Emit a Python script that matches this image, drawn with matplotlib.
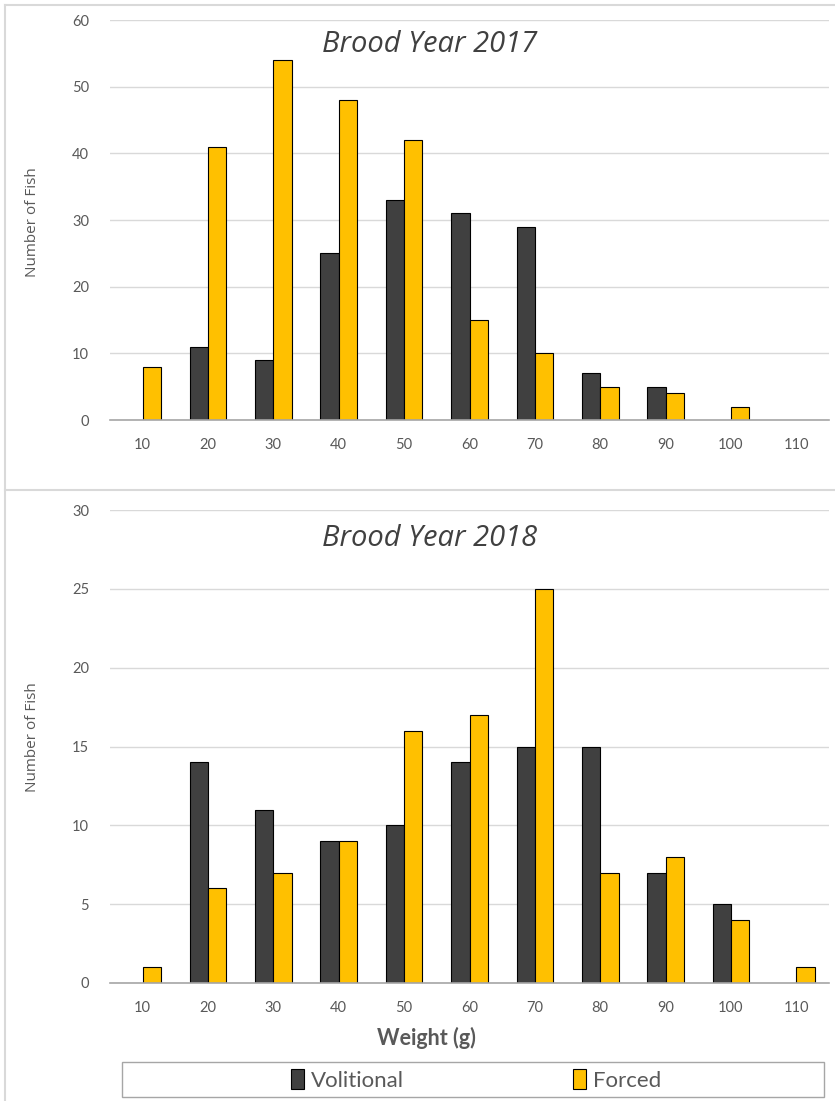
import numpy as np
import matplotlib.pyplot as plt
from matplotlib.lines import Line2D
from matplotlib.patches import Rectangle, Patch

# weight classes (g)
weights = ["10", "20", "30", "40", "50", "60", "70", "80", "90", "100", "110"]

# brood year 2017 counts
volitional_2017 = [0, 11, 9, 25, 33, 31, 29, 7, 5, 0, 0]
forced_2017 = [8, 41, 54, 48, 42, 15, 10, 5, 4, 2, 0]

# brood year 2018 counts
volitional_2018 = [0, 14, 11, 9, 10, 14, 15, 15, 7, 5, 0]
forced_2018 = [1, 6, 7, 9, 16, 17, 25, 7, 8, 4, 1]

DARK = "#404040"
GOLD = "#FFC000"
GRID = "#d9d9d9"
TEXT = "#595959"
TICK_FONT = ["Lato", "DejaVu Sans"]
TITLE_FONT = ["Open Sans", "DejaVu Sans"]

W, H = 835, 1101
fig = plt.figure(figsize=(W / 100, H / 100), dpi=100)


def fx(px):
    return px / W


def fy(py):
    return 1 - py / H


def draw_panel(ax, vol, forced, ymax, step, title, title_y):
    x = np.arange(len(weights))
    bw = 0.28
    ax.bar(x - bw / 2, [v if v else np.nan for v in vol], bw, color=DARK,
           edgecolor="black", linewidth=0.8, zorder=3)
    ax.bar(x + bw / 2, [v if v else np.nan for v in forced], bw, color=GOLD,
           edgecolor="black", linewidth=0.8, zorder=3)
    ax.set_xlim(-0.5, len(weights) - 0.5)
    ax.set_ylim(0, ymax)
    ax.set_yticks(np.arange(0, ymax + 1, step))
    ax.set_xticks(x)
    ax.set_xticklabels(weights)
    ax.yaxis.grid(True, color=GRID, linewidth=1, zorder=0)
    ax.set_axisbelow(True)
    for s in ["top", "right", "left"]:
        ax.spines[s].set_visible(False)
    ax.spines["bottom"].set_color("#a6a6a6")
    ax.spines["bottom"].set_linewidth(1.2)
    ax.spines["bottom"].set_zorder(4)
    ax.tick_params(axis="both", length=0, colors=TEXT, labelsize=10.5)
    ax.tick_params(axis="y", pad=15)
    ax.tick_params(axis="x", pad=13)
    for lab in ax.get_xticklabels() + ax.get_yticklabels():
        lab.set_family(TICK_FONT)
    fig.text(fx(430), fy(title_y), title, ha="center", va="center",
             fontsize=21, style="italic", color="#404040", family=TITLE_FONT)


ax1 = fig.add_axes([fx(110), fy(420), fx(829) - fx(110), fy(20) - fy(420)])
draw_panel(ax1, volitional_2017, forced_2017, 60, 10, "Brood Year 2017", 45)
fig.text(fx(33), fy(222), "Number of Fish", rotation=90, ha="center", va="center",
         fontsize=11, color=TEXT, family=TITLE_FONT)

ax2 = fig.add_axes([fx(110), fy(983), fx(829) - fx(110), fy(510) - fy(983)])
draw_panel(ax2, volitional_2018, forced_2018, 30, 5, "Brood Year 2018", 538)
fig.text(fx(33), fy(737), "Number of Fish", rotation=90, ha="center", va="center",
         fontsize=11, color=TEXT, family=TITLE_FONT)
fig.text(fx(426), fy(1038), "Weight (g)", ha="center", va="center",
         fontsize=15.5, fontweight="bold", color=TEXT, family=TICK_FONT)

# panel borders
for (x0, y0, x1, y1) in [(5, 5, 835, 5), (5, 5, 5, 1101), (5, 490, 835, 490)]:
    fig.add_artist(Line2D([fx(x0), fx(x1)], [fy(y0), fy(y1)], color=GRID, lw=1.5))

# legend box
fig.add_artist(Rectangle((fx(122), fy(1097)), fx(824) - fx(122), fy(1062) - fy(1097),
                         facecolor="white", edgecolor="#a6a6a6", lw=1))
handles = [Patch(facecolor=DARK, edgecolor="black", lw=0.8, label="Volitional"),
           Patch(facecolor=GOLD, edgecolor="black", lw=0.8, label="Forced")]
leg = fig.legend(handles=handles, loc="center", bbox_to_anchor=(fx(476), fy(1080)),
                 ncol=2, frameon=False, handlelength=0.6, handleheight=1.0,
                 handletextpad=0.3, columnspacing=7.6,
                 prop={"family": TICK_FONT, "size": 16})
for t in leg.get_texts():
    t.set_color(TEXT)

fig.savefig("out.png", dpi=100)
